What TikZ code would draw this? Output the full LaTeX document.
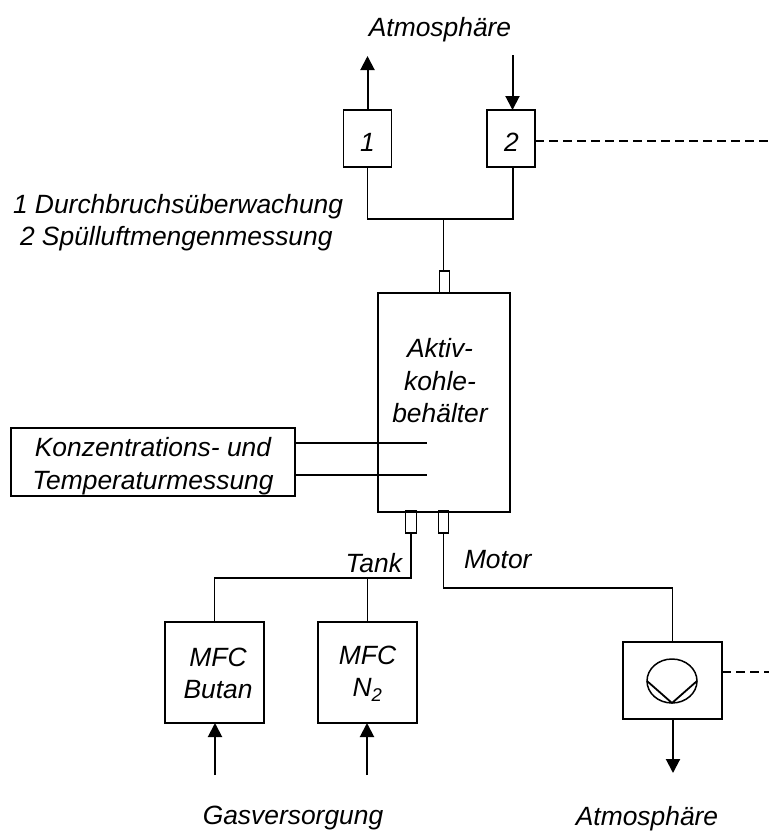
\documentclass[tikz,border=0pt]{standalone}
\usepackage{fontspec}
\setmainfont{Liberation Sans}
\usetikzlibrary{arrows.meta,calc,shapes.geometric}
\tikzset{
 x=1pt,y=-1pt,
 every node/.style={font=\fontsize{26.4}{32.5}\selectfont\itshape,inner sep=0pt,outer sep=0pt},
 boxa/.style={draw,line width=1.6pt,minimum width=#1},
 boxa/.default=99pt,
 port/.style={draw,line width=1.4pt,minimum width=10.5pt,minimum height=22pt},
 pipe/.style={line width=1.8pt},
 thin pipe/.style={line width=1.2pt},
 flow/.style={line width=2pt,-{Triangle[length=14pt,width=14pt]}},
 sig/.style={line width=1.3pt,dash pattern=on 9pt off 5pt},
}
\begin{document}
\begin{tikzpicture}
\useasboundingbox (0,0) rectangle (769,831);
% top boxes
\node[boxa=48pt,minimum height=57pt,line width=1.2pt] (b1) at (367.5,138.5) {};
\node[boxa=48pt,minimum height=57pt,line width=1.7pt] (b2) at (511,138.5) {};
\node (b1t) at (367.5,142.5) {1};
\node (b2t) at (511.5,142.5) {2};
\node (atop) at (440,30) {Atmosphäre};
\coordinate (a1) at (367.5,56);
\coordinate (a2) at (512.5,55);
\draw[flow] (b1.north) -- (a1);
\draw[flow] (a2) -- (b2.north-|a2);
\coordinate (r2) at (769,141);
\draw[sig] (b2.east|-r2) -- (r2);
\node[anchor=west] (leg1) at (13,207) {1 Durchbruchsüberwachung};
\node[anchor=west] (leg2) at (20,239) {2 Spülluftmengenmessung};
% main
\node[boxa=132pt,minimum height=219pt,line width=1.8pt] (main) at (444,402.5) {};
\node[align=center] (mtxt) at (440,381) {Aktiv-\\kohle-\\behälter};
\node[port,anchor=south] (ptop) at (444.5,293) {};
\node[port,anchor=north] (ptank) at (411,511) {};
\node[port,anchor=north] (pmot) at (443.5,511) {};
\coordinate (j) at (443.5,219);
\coordinate (b2x) at (513,0);
\draw[pipe] (b1.south) |- (j);
\draw[pipe] (b2.south-|b2x) |- (j);
\draw[pipe] (j) -- (j|-ptop.north);
% conc
\node[boxa=284pt,minimum height=68pt] (conc) at (153,462) {};
\node[align=center] (conct) at (153,466) {Konzentrations- und\\Temperaturmessung};
\coordinate (c1) at (427,443);
\coordinate (c2) at (427,475);
\draw[pipe] (conc.east|-c1) -- (c1);
\draw[pipe] (conc.east|-c2) -- (c2);
% bottom
\node[boxa,minimum height=101pt] (mb) at (214.5,672.5) {};
\node[boxa,minimum height=101pt] (mn) at (367.5,672.5) {};
\node[align=center] (mbt) at (218,673.5) {MFC\\Butan};
\node[align=center] (mnt) at (367.5,673.5) {MFC\\N\textsubscript{2}};
\coordinate (t) at (411,578);
\draw[pipe] (ptank.south) -- (t) -| (mb.north);
\draw[thin pipe] (mn.north) -- (mn.north|-t);
\node[anchor=east] (tank) at (402,563) {Tank};
\node[anchor=west] (motor) at (464,560) {Motor};
% pump
\node[boxa,minimum height=77pt] (pb) at (672.5,680.5) {};
\node[draw,ellipse,line width=1.5pt,minimum width=50pt,minimum height=44pt] (pc) at (672,681) {};
\draw[pipe,line join=round] (pc.west) -- (pc.south) -- (pc.east);
\coordinate (m) at (443.5,588);
\draw[pipe] (pmot.south) |- (m-|pb.north) -- (pb.north);
\coordinate (r3) at (769,672);
\draw[sig] (pb.east|-r3) -- (r3);
\coordinate (a3) at (673,773);
\draw[flow] (pb.south-|a3) -- (a3);
\coordinate (g1) at (215,775);
\coordinate (g2) at (367,775);
\draw[flow] (g1) -- (g1|-mb.south);
\draw[flow] (g2) -- (g2|-mn.south);
\node (gv) at (293,818) {Gasversorgung};
\node (abot) at (647,819) {Atmosphäre};
\end{tikzpicture}
\end{document}
